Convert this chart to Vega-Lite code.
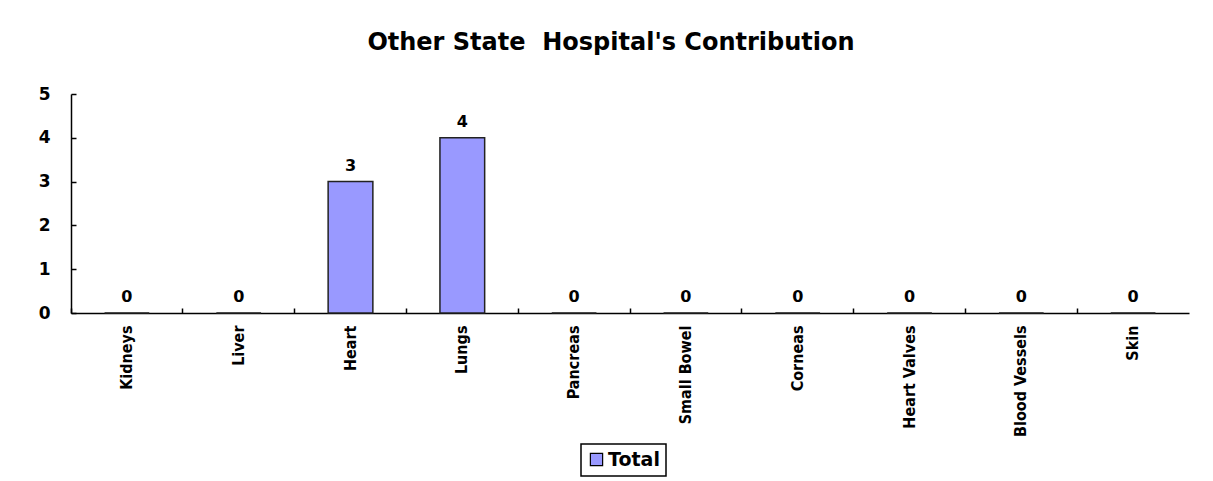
{
  "$schema": "https://vega.github.io/schema/vega-lite/v6.json",
  "width": 1118,
  "height": 219,
  "autosize": {"type": "none"},
  "padding": {"left": 71, "top": 94, "right": 24, "bottom": 168},
  "background": "white",
  "title": {
    "text": "Other State\u00a0 Hospital's Contribution",
    "font": "DejaVu Sans",
    "fontWeight": "bold",
    "fontSize": 24,
    "color": "black",
    "anchor": "middle",
    "dx": -19,
    "offset": 30
  },
  "data": {
    "values": [
      {"organ": "Kidneys", "value": 0, "series": "Total"},
      {"organ": "Liver", "value": 0, "series": "Total"},
      {"organ": "Heart", "value": 3, "series": "Total"},
      {"organ": "Lungs", "value": 4, "series": "Total"},
      {"organ": "Pancreas", "value": 0, "series": "Total"},
      {"organ": "Small Bowel", "value": 0, "series": "Total"},
      {"organ": "Corneas", "value": 0, "series": "Total"},
      {"organ": "Heart Valves", "value": 0, "series": "Total"},
      {"organ": "Blood Vessels", "value": 0, "series": "Total"},
      {"organ": "Skin", "value": 0, "series": "Total"}
    ]
  },
  "encoding": {
    "x": {
      "field": "organ",
      "type": "nominal",
      "sort": null,
      "scale": {"paddingInner": 0, "paddingOuter": 0},
      "axis": {
        "title": null,
        "labelAngle": -90,
        "labelFont": "DejaVu Sans Condensed",
        "labelFontWeight": "bold",
        "labelFontSize": 16,
        "labelColor": "black",
        "labelPadding": 17,
        "bandPosition": 0,
        "tickSize": -5,
        "tickColor": "black",
        "tickWidth": 1.5,
        "domainColor": "black",
        "domainWidth": 1.5,
        "grid": false
      }
    },
    "y": {
      "field": "value",
      "type": "quantitative",
      "scale": {"domain": [0, 5], "nice": false},
      "axis": {
        "title": null,
        "values": [0, 1, 2, 3, 4, 5],
        "format": "d",
        "labelFont": "DejaVu Sans",
        "labelFontWeight": "bold",
        "labelFontSize": 17,
        "labelColor": "black",
        "labelPadding": 26,
        "tickSize": -5,
        "tickColor": "black",
        "tickWidth": 1.5,
        "domainColor": "black",
        "domainWidth": 1.5,
        "grid": false
      }
    }
  },
  "layer": [
    {
      "mark": {"type": "bar", "width": {"band": 0.4}, "stroke": "#222222", "strokeWidth": 1.5},
      "encoding": {
        "color": {
          "field": "series",
          "type": "nominal",
          "scale": {"range": ["#9999FF"]},
          "legend": {
            "title": null,
            "orient": "none",
            "legendX": 510,
            "legendY": 350,
            "direction": "horizontal",
            "symbolType": "square",
            "symbolSize": 150,
            "symbolStrokeColor": "black",
            "symbolStrokeWidth": 1.2,
            "symbolFillColor": "#9999FF",
            "symbolOffset": 0,
            "labelFont": "DejaVu Sans",
            "labelFontWeight": "bold",
            "labelFontSize": 19,
            "labelColor": "black",
            "labelOffset": 2,
            "strokeColor": "black",
            "padding": 6,
            "fillColor": "white"
          }
        }
      }
    },
    {
      "mark": {
        "type": "text",
        "baseline": "bottom",
        "dy": -8,
        "font": "DejaVu Sans",
        "fontWeight": "bold",
        "fontSize": 16,
        "color": "black"
      },
      "encoding": {
        "text": {"field": "value", "type": "quantitative"}
      }
    }
  ],
  "config": {
    "view": {"stroke": null},
    "legend": {"strokeWidth": 1.5}
  }
}
